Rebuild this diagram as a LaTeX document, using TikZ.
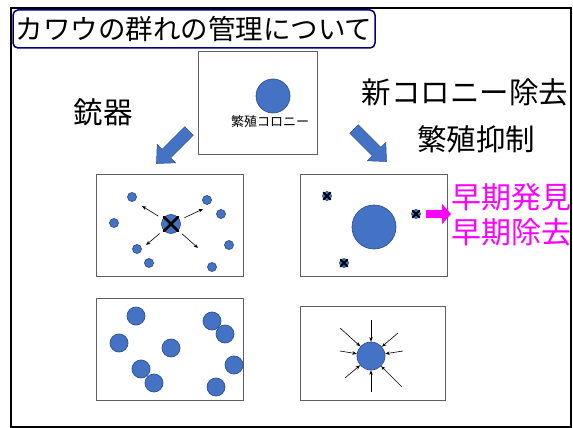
\documentclass[tikz,border=0pt]{standalone}
\usepackage{fontspec}
\setmainfont{Noto Sans CJK JP}
\usetikzlibrary{arrows.meta}

\definecolor{colblue}{HTML}{4472C4}
\definecolor{coledge}{HTML}{2F528F}
\definecolor{colpink}{HTML}{FF00FF}
\definecolor{colnavy}{HTML}{00007F}

\tikzset{
  colony/.style={circle, fill=colblue, draw=coledge, line width=0.7pt, inner sep=0pt, minimum size=#1},
  panel/.style={draw=gray!75!black, line width=1pt, inner sep=0pt},
  spoke/.style={line width=0.6pt, -{Stealth[length=4.5pt,width=3.5pt]}},
  cross/.style={line width=#1, line cap=round},
  pics/fatarrow/.style={code={
    \filldraw[fill=colblue, draw=coledge, line width=0.5pt]
      (0,-6) -- (#1-14,-6) -- (#1-14,-13) -- (#1,0) -- (#1-14,13) -- (#1-14,6) -- (0,6) -- cycle;
  }}
}

\begin{document}
\begin{tikzpicture}[x=1pt, y=-1pt]
\useasboundingbox (0,0) rectangle (573,428);
\fill[white] (0,0) rectangle (573,428);

% frame and title
\draw[line width=2.5pt] (11,8) rectangle (571,427);
\node[draw=colnavy, line width=1.5pt, rounded corners=5pt, minimum width=362pt, minimum height=38pt,
  inner sep=0pt, font=\fontsize{27.5}{30}\selectfont] (title) at (194,29) {カワウの群れの管理について};

% breeding colony
\node[panel, minimum width=119pt, minimum height=102pt] (pTop) at (257.5,103) {};
\node[colony=34pt] (col) at (273,96) {};
\node[font=\fontsize{13}{15}\selectfont] (colLbl) at (270,122) {繁殖コロニー};

\node[font=\fontsize{29.5}{32}\selectfont] (gun) at (103,112) {銃器};
\node[font=\fontsize{29.5}{32}\selectfont] (newCol) at (465,92) {新コロニー除去};
\node[font=\fontsize{29.5}{32}\selectfont] (curb) at (476,139) {繁殖抑制};

\pic[rotate=-135] at (189,131) {fatarrow=46};
\pic[rotate=-45] at (354,129) {fatarrow=46};

% panel A: shooting scatters the flock
\node[panel, minimum width=147pt, minimum height=102pt] (pA) at (169.5,225) {};
\foreach \n/\x/\y in {1/132/197, 2/114/223, 3/137/249, 4/149/263, 5/207/200, 6/221/214, 7/229/245, 8/212/267} {
  \node[colony=9pt] (a\n) at (\x,\y) {};
}
\node[colony=19pt] (hub) at (171,224) {};
\draw[cross=2.5pt] (hub.135) -- (hub.-45);
\draw[cross=2.5pt] (hub.45) -- (hub.-135);
\coordinate (s1) at (142,206);
\coordinate (s2) at (203,209);
\coordinate (s3) at (146,245);
\coordinate (s4) at (198,248);
\foreach \s in {s1,s2,s3,s4} {
  \draw[spoke, shorten <=5pt] (hub) -- (\s);
}

% panel B: new colonies removed early
\node[panel, minimum width=147pt, minimum height=102pt] (pB) at (373.5,225) {};
\node[colony=44pt] (big) at (374,227) {};
\foreach \n/\x/\y in {1/327/196, 2/416/214, 3/344/263} {
  \node[colony=9pt] (k\n) at (\x,\y) {};
  \draw[cross=1.8pt] (k\n.135) -- (k\n.-45);
  \draw[cross=1.8pt] (k\n.45) -- (k\n.-135);
}
\node[anchor=west, align=left, text=colpink, inner sep=0pt,
  font=\fontsize{30}{35}\selectfont] (early) at (451,214.5) {早期発見\\早期除去};
\draw[colpink, line width=8pt, shorten <=5pt, -{Triangle[length=9pt,width=20pt]}] (k2.east) -- (k2.east -| early.west);

% panel C: scattered flock
\node[panel, minimum width=147pt, minimum height=102pt] (pC) at (169.5,349) {};
\foreach \n/\x/\y in {1/136/316, 2/119/343, 3/171/348, 4/141/369, 5/154/383, 6/212/321, 7/225/334, 8/234/365, 9/216/387} {
  \node[colony=18pt] (c\n) at (\x,\y) {};
}

% panel D: birds gather at one colony
\node[panel, minimum width=145pt, minimum height=94pt] (pD) at (372.5,353.5) {};
\node[colony=28pt] (sink) at (371,356) {};
\foreach \n/\x/\y in {1/371/320, 2/398/333, 3/403/351, 4/402/387, 5/371/392, 6/345/378, 7/340/351, 8/340/328} {
  \coordinate (d\n) at (\x,\y);
  \draw[spoke] (d\n) -- (sink);
}
\end{tikzpicture}
\end{document}
